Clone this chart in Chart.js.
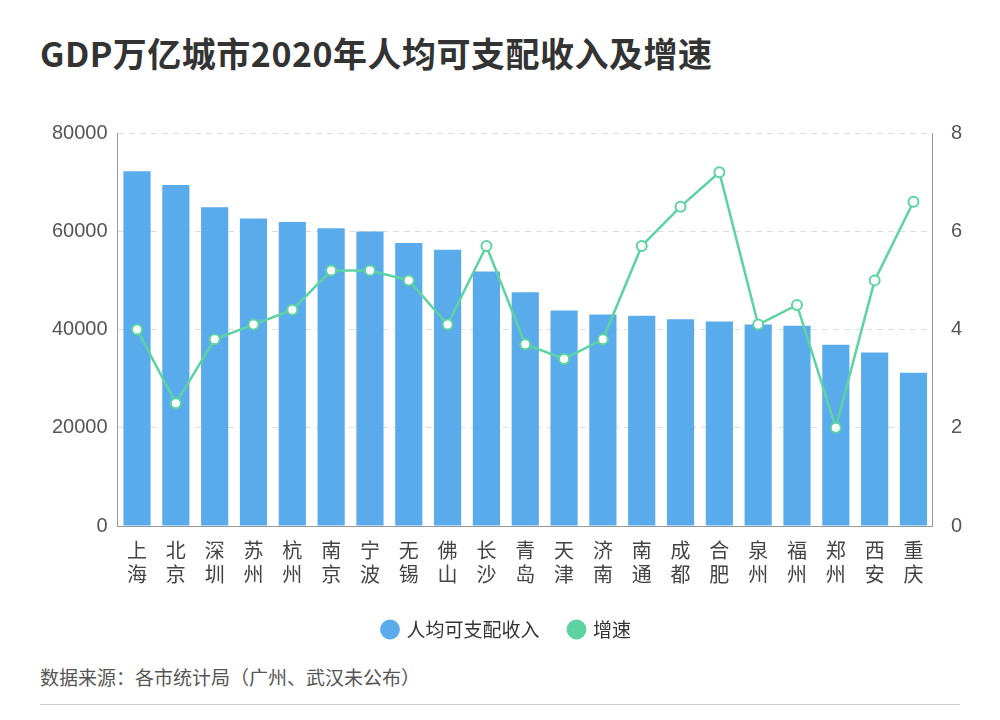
<!DOCTYPE html>
<html>
<head>
<meta charset="utf-8">
<script src="https://cdn.jsdelivr.net/npm/chart.js@4"></script>
<style>
  body { margin: 0; background: #fff; font-family: "Noto Sans CJK SC", "Noto Sans", sans-serif; }
  #title { position: absolute; left: 40px; top: 28px; font-size: 34px; font-weight: bold; color: #333; letter-spacing: 0.5px; }
  #wrap { position: absolute; left: 22px; top: 111px; width: 960px; height: 538px; }
  #source { position: absolute; left: 40px; top: 663px; font-size: 19px; color: #555; }
  #rule { position: absolute; left: 40px; right: 40px; top: 704px; border-top: 1px solid #ccc; }
</style>
</head>
<body>
<div id="title">GDP万亿城市2020年人均可支配收入及增速</div>
<div id="wrap"><canvas id="chart"></canvas></div>
<div id="source">数据来源：各市统计局（广州、武汉未公布）</div>
<div id="rule"></div>
<script>
const cities = ['上海','北京','深圳','苏州','杭州','南京','宁波','无锡','佛山','长沙','青岛','天津','济南','南通','成都','合肥','泉州','福州','郑州','西安','重庆'];
const income = [72232, 69434, 64878, 62582, 61879, 60606, 59952, 57589, 56245, 51800, 47600, 43854, 43056, 42800, 42075, 41619, 41000, 40772, 36900, 35300, 31200];
const growth = [4.0, 2.5, 3.8, 4.1, 4.4, 5.2, 5.2, 5.0, 4.1, 5.7, 3.7, 3.4, 3.8, 5.7, 6.5, 7.2, 4.1, 4.5, 2.0, 5.0, 6.6];
const leftTicks = [0, 20000, 40000, 60000, 80000];

// vertical two-character labels
const labels = cities.map((c) => c.split(''));

const ctx = document.getElementById('chart').getContext('2d');
new Chart(ctx, {
  data: {
    labels: labels,
    datasets: [
      {
        type: 'line',
        label: '增速',
        data: growth,
        yAxisID: 'y1',
        borderColor: '#5dd3a1',
        backgroundColor: '#5dd3a1',
        borderWidth: 2.5,
        pointRadius: 5,
        pointBorderWidth: 2,
        pointBackgroundColor: '#fff',
        pointBorderColor: '#5dd3a1',
        tension: 0,
        order: 0,
      },
      {
        type: 'bar',
        label: '人均可支配收入',
        data: income,
        yAxisID: 'y',
        backgroundColor: '#5aabec',
        categoryPercentage: 1,
        barPercentage: 0.7,
        order: 1,
      },
    ],
  },
  options: {
    responsive: true,
    maintainAspectRatio: false,
    animation: false,
    layout: { padding: { left: 20, right: 10 } },
    plugins: {
      tooltip: { enabled: false },
      legend: {
        position: 'bottom',
        labels: {
          usePointStyle: true,
          pointStyle: 'circle',
          boxWidth: 14,
          boxHeight: 14,
          padding: 30,
          color: '#333',
          font: { size: 19, family: '"Noto Sans CJK SC"' },
          generateLabels: (chart) => [1, 0].map((i) => {
            const ds = chart.data.datasets[i];
            const c = ds.type === 'bar' ? '#5aabec' : '#5dd3a1';
            return { text: ds.label, fillStyle: c, strokeStyle: c, lineWidth: 0, pointStyle: 'circle', datasetIndex: i, fontColor: '#333' };
          }),
        },
      },
    },
    scales: {
      x: {
        grid: { display: false },
        border: { color: '#999' },
        ticks: { color: '#444', font: { size: 20, family: '"Noto Sans CJK SC"' }, maxRotation: 0, autoSkip: false, padding: 4 },
      },
      y: {
        position: 'left',
        min: 0,
        max: 80000,
        afterBuildTicks: (axis) => { axis.ticks = leftTicks.map((v) => ({ value: v })); },
        grid: { color: '#ddd', drawTicks: false },
        border: { display: true, color: '#999', dash: [6, 5] },
        ticks: { color: '#555', font: { size: 20 }, padding: 10, callback: (v) => String(v) },
      },
      y1: {
        position: 'right',
        min: 0,
        max: 8,
        ticks: { stepSize: 2, color: '#555', font: { size: 20 }, padding: 10 },
        grid: { display: false },
        border: { color: '#999' },
      },
    },
  },
});
</script>
</body>
</html>
